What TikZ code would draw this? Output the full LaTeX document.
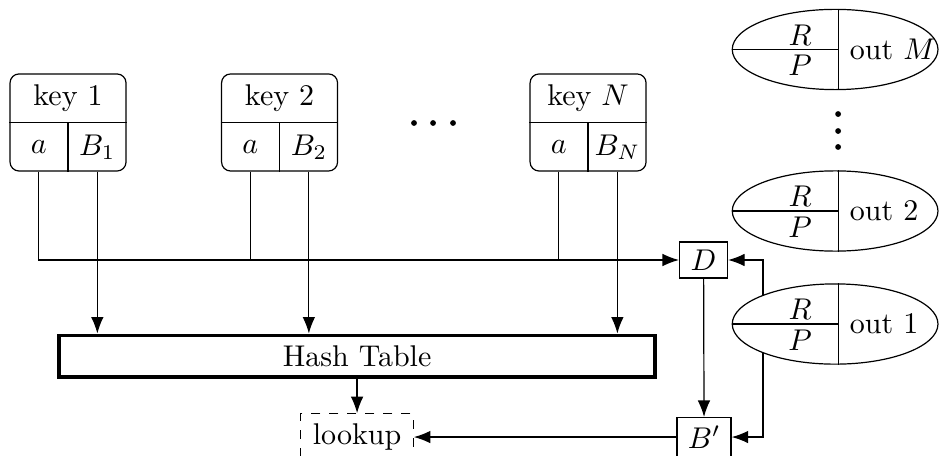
\documentclass[tikz,border=0pt]{standalone}
\usetikzlibrary{shapes.geometric,calc,arrows.meta}

\tikzset{
    keybox/.style={draw, rounded corners=3pt, minimum width=1.359cm, minimum height=1.137cm},
    smallbox/.style={draw, minimum height=12pt, inner sep=2pt},
    outnode/.style={draw, fill=white, ellipse, minimum width=2.41cm, minimum height=0.94cm, inner sep=0pt},
    >={Latex[length=5.5pt,width=4.2pt]}
}

\begin{document}
\begin{tikzpicture}
    \useasboundingbox (0,0) rectangle (11.0,5.331);

    % -------------------------------
    % keys
    % -------------------------------
    \foreach \n/\x in {1/0.797, 2/3.275, N/6.889} {
        \node[keybox] (k\n) at (\x,3.896) {};
        \draw (k\n.west) -- (k\n.east);
        \draw (k\n.center) -- (k\n.south);
        \node (k\n t) at ($(k\n.north)!0.5!(k\n.center)$) {key $\n$};
        \node (k\n a) at ($(k\n.south west)!0.5!(k\n.center)$) {$a$};
        \node (k\n b) at ($(k\n.south east)!0.5!(k\n.center)$) {$B_{\n}$};
    }
    % dots between keys
    \foreach \x in {4.850,5.073,5.307} {
        \fill (\x,3.890) circle (0.034);
    }

    % -------------------------------
    % table, lookup
    % -------------------------------
    \node[draw, line width=1.3pt, minimum width=6.98cm, minimum height=0.37cm] (ht) at (4.183,1.160) {Hash Table};
    \node[draw, dashed, minimum height=13.3pt, inner xsep=4pt] (look) at (4.183,0.211) {lookup};
    \node[smallbox, minimum width=16pt] (D) at (8.242,2.285) {$D$};
    \node[smallbox, minimum width=18pt, minimum height=13pt] (Bp) at (8.248,0.211) {$B'$};

    % a -> D, B -> table
    \draw[->] (k1a |- k1.south) |- (D);
    \foreach \n in {2,N} {
        \draw (k\n a |- k\n.south) -- (k\n a |- D);
    }
    \foreach \n in {1,2,N} {
        \draw[->] (k\n b |- k\n.south) -- (k\n b |- ht.north);
    }
    \draw[->] (ht) -- (look);
    \draw[->] (D) -- (Bp);
    \draw[->] (Bp) -- (look);

    % out 1 -> D, B'
    \coordinate (tap) at (8.939,1.535);
    \draw[->] (tap) |- (D);
    \draw[->] (tap) |- (Bp);

    % -------------------------------
    % outputs
    % -------------------------------
    \foreach \n/\y in {1/1.535, 2/2.859, M/4.751} {
        \node[outnode] (o\n) at (9.783,\y) {};
        \draw ([xshift=0.04cm]o\n.center |- o\n.north) -- ([xshift=0.04cm]o\n.center |- o\n.south);
        \draw (o\n.west) -- ([xshift=0.04cm]o\n.center);
        \node (o\n r) at ([shift={(-0.41,0.17)}]o\n.center) {$R$};
        \node (o\n p) at ([shift={(-0.41,-0.19)}]o\n.center) {$P$};
        \node[anchor=west] (o\n t) at ([xshift=0.05cm]o\n.center) {out $\n$};
    }
    % dots between outputs
    \foreach \y in {3.995,3.796,3.609} {
        \fill (9.818,\y) circle (0.034);
    }

\end{tikzpicture}
\end{document}
